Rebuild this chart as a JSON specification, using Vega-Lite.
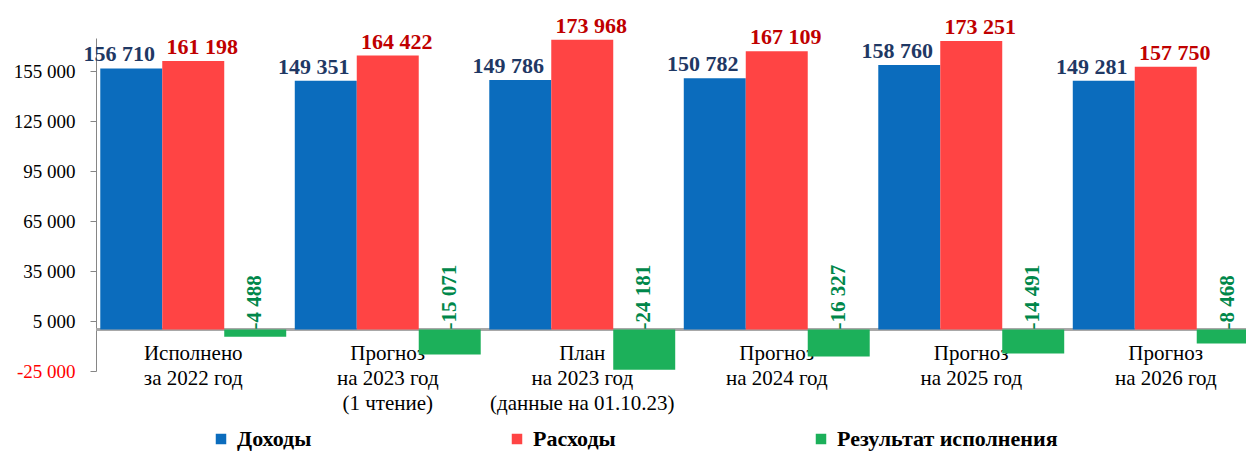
{
  "$schema": "https://vega.github.io/schema/vega-lite/v6.json",
  "autosize": "none",
  "padding": {"left": 96, "top": 38, "right": 0, "bottom": 81},
  "width": 1150,
  "height": 333,
  "config": {
    "view": {"stroke": null},
    "font": "Liberation Serif",
    "legend": {"labelFont": "Liberation Serif", "labelLimit": 0},
    "locale": {"number": {"decimal": ",", "thousands": " ", "grouping": [3], "currency": ["", ""], "minus": "-"}}
  },
  "data": {
    "values": [
      {"cat": "Исполнено|за 2022 год", "series": "Доходы", "value": 156710},
      {"cat": "Исполнено|за 2022 год", "series": "Расходы", "value": 161198},
      {"cat": "Исполнено|за 2022 год", "series": "Результат исполнения", "value": -4488},
      {"cat": "Прогноз|на 2023 год|(1 чтение)", "series": "Доходы", "value": 149351},
      {"cat": "Прогноз|на 2023 год|(1 чтение)", "series": "Расходы", "value": 164422},
      {"cat": "Прогноз|на 2023 год|(1 чтение)", "series": "Результат исполнения", "value": -15071},
      {"cat": "План|на 2023 год|(данные на 01.10.23)", "series": "Доходы", "value": 149786},
      {"cat": "План|на 2023 год|(данные на 01.10.23)", "series": "Расходы", "value": 173968},
      {"cat": "План|на 2023 год|(данные на 01.10.23)", "series": "Результат исполнения", "value": -24181},
      {"cat": "Прогноз|на 2024 год", "series": "Доходы", "value": 150782},
      {"cat": "Прогноз|на 2024 год", "series": "Расходы", "value": 167109},
      {"cat": "Прогноз|на 2024 год", "series": "Результат исполнения", "value": -16327},
      {"cat": "Прогноз|на 2025 год", "series": "Доходы", "value": 158760},
      {"cat": "Прогноз|на 2025 год", "series": "Расходы", "value": 173251},
      {"cat": "Прогноз|на 2025 год", "series": "Результат исполнения", "value": -14491},
      {"cat": "Прогноз|на 2026 год", "series": "Доходы", "value": 149281},
      {"cat": "Прогноз|на 2026 год", "series": "Расходы", "value": 157750},
      {"cat": "Прогноз|на 2026 год", "series": "Результат исполнения", "value": -8468}
    ]
  },
  "layer": [
    {
      "mark": {"type": "rule", "color": "#A6A6A6", "strokeWidth": 1.5},
      "encoding": {"y": {"datum": 0, "type": "quantitative"}}
    },
    {
      "mark": {"type": "bar", "clip": true},
      "encoding": {
        "x": {
          "field": "cat", "type": "nominal", "sort": null,
          "scale": {"range": [0, 1167], "paddingInner": 0.044, "paddingOuter": 0.022},
          "axis": {
            "title": null, "orient": "bottom", "offset": -30, "domain": false, "ticks": false,
            "labelPadding": 1, "labelFontSize": 21, "labelColor": "#000000", "labelAngle": 0,
            "labelExpr": "split(datum.label, '|')", "labelLineHeight": 25, "labelBaseline": "top",
            "labelFont": "Liberation Serif", "labelLimit": 0
          }
        },
        "xOffset": {"field": "series", "type": "nominal", "sort": ["Доходы", "Расходы", "Результат исполнения"]},
        "y": {
          "field": "value", "type": "quantitative",
          "scale": {"domain": [-25000, 175000], "nice": false},
          "axis": {
            "title": null, "values": [-25000, 5000, 35000, 65000, 95000, 125000, 155000],
            "format": ",.0f", "grid": false, "domainColor": "#868686", "tickColor": "#868686",
            "tickSize": 6, "labelFontSize": 19, "labelPadding": 15, "labelFont": "Liberation Serif",
            "labelColor": {"condition": {"test": "datum.value < 0", "value": "#FF0000"}, "value": "#000000"}
          }
        },
        "color": {
          "field": "series", "type": "nominal",
          "scale": {"domain": ["Доходы", "Расходы", "Результат исполнения"], "range": ["#0B6CBD", "#FF4444", "#1CB05A"]},
          "legend": {
            "title": null, "orient": "none", "legendX": 114, "legendY": 390, "direction": "horizontal",
            "symbolType": "square", "symbolSize": 110, "symbolStrokeWidth": 0,
            "labelFontSize": 22, "labelFontWeight": "bold", "labelFont": "Liberation Serif", "labelLimit": 0,
            "labelColor": "#000000", "columnPadding": 194, "labelOffset": 5
          }
        }
      }
    },
    {
      "transform": [{"filter": "datum.series == 'Доходы'"}],
      "mark": {"type": "text", "font": "Liberation Serif", "fontWeight": "bold", "fontSize": 22, "color": "#1F3864", "dx": -12, "dy": -7, "baseline": "alphabetic"},
      "encoding": {
        "x": {"field": "cat", "type": "nominal", "sort": null},
        "xOffset": {"field": "series", "type": "nominal", "sort": ["Доходы", "Расходы", "Результат исполнения"]},
        "y": {"field": "value", "type": "quantitative"},
        "text": {"field": "value", "type": "quantitative", "format": ",.0f"}
      }
    },
    {
      "transform": [{"filter": "datum.series == 'Расходы'"}],
      "mark": {"type": "text", "font": "Liberation Serif", "fontWeight": "bold", "fontSize": 22, "color": "#C00000", "dx": 9, "dy": -7, "baseline": "alphabetic"},
      "encoding": {
        "x": {"field": "cat", "type": "nominal", "sort": null},
        "xOffset": {"field": "series", "type": "nominal", "sort": ["Доходы", "Расходы", "Результат исполнения"]},
        "y": {"field": "value", "type": "quantitative"},
        "text": {"field": "value", "type": "quantitative", "format": ",.0f"}
      }
    },
    {
      "transform": [{"filter": "datum.series == 'Результат исполнения'"}],
      "mark": {"type": "text", "font": "Liberation Serif", "fontWeight": "bold", "fontSize": 21, "color": "#00874A", "angle": 270, "align": "left", "baseline": "middle", "dx": 0},
      "encoding": {
        "x": {"field": "cat", "type": "nominal", "sort": null},
        "xOffset": {"field": "series", "type": "nominal", "sort": ["Доходы", "Расходы", "Результат исполнения"]},
        "y": {"datum": 0, "type": "quantitative"},
        "text": {"field": "value", "type": "quantitative", "format": ",.0f"}
      }
    }
  ]
}
